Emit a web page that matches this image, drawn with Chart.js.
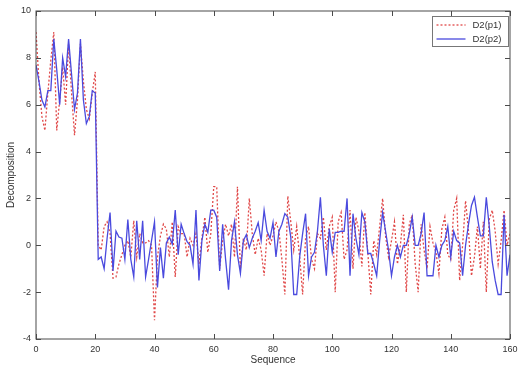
<html lang="en">

<head>
	<title>D2 decomposition</title>
	<meta http-equiv="content-type" content="text/html;charset=utf-8">
	<script src="https://cdn.jsdelivr.net/npm/chart.js@4/dist/chart.umd.min.js"></script>
	<style>
		body {
			margin: 0;
			background: #fff;
		}

		.div-chart {
			position: relative;
			width: 525px;
			height: 368px;
		}
	</style>
</head>

<body>
	<div class="div-chart">
		<canvas id="decomp" width="525" height="368"></canvas>
	</div>
	<script>
		// values, index = sequence number 0..160
		const p1 = [
			9.1, 7.0, 5.5, 4.9, 6.5, 7.9, 9.1, 4.9, 6.2, 7.6, 6.0, 8.6, 6.5, 4.7, 6.2, 8.6, 7.0, 5.8, 5.4, 6.5, 7.4,
			0.0, -0.2, 0.8, 1.0, 0.5, -1.4, -1.35, -0.8, -0.4, 0.0,
			0.2, -0.5, 1.05, -0.5, 0.5, 0.1, 0.1, 0.2, 0.0, -3.2,
			-0.5, 0.4, 0.9, 0.7, -0.5, 1.0, -1.35, 0.8, 0.5, 0.5,
			-0.5, 0.3, 0.0, 0.5, -0.8, 0.3, 1.2, -0.3, 0.5, 2.5,
			2.5, -1.0, 0.2, 0.9, 0.4, 0.9, -0.5, 2.5, -1.0, 0.3,
			-0.2, 2.0, 0.5, -0.4, 0.3, -0.2, -1.3, 0.5, 0.0, 0.4,
			1.0, 0.6, -0.6, -2.1, 2.1, 1.0, -0.2, 0.8, -0.5, -2.1,
			0.3, 0.8, -0.6, -1.0, 0.5, 0.3, 1.2, -0.2, 0.8, 1.2,
			-2.0, 1.0, 1.4, -0.6, -0.2, 1.5, -1.0, 1.2, 0.6, -0.9,
			1.4, -0.3, -2.1, 0.2, -0.4, 0.8, 2.0, 0.4, -0.5, 0.2,
			1.0, -0.8, 0.0, 1.3, -2.0, 0.9, 1.3, -0.8, -2.0, 0.9,
			-0.2, -1.0, 0.8, 0.1, -0.3, -1.2, 0.7, 1.2, -0.4, -0.6,
			1.5, 2.0, -1.5, 0.0, 1.9, 0.6, -1.3, -0.5, 0.8, -1.0,
			1.0, -2.0, 1.1, 1.5, 0.6, -0.8, 0.2, 1.5, 0.0, 0.5
		];
		const p2 = [
			7.7, 7.0, 6.2, 5.9, 6.6, 6.6, 8.8, 7.5, 6.0, 8.0, 7.2, 8.8, 7.3, 5.8, 6.5, 8.8, 6.2, 5.2, 5.5, 6.6, 6.5,
			-0.6, -0.5, -1.0, 0.3, 1.4, -1.1, 0.6, 0.35, 0.3, -0.6,
			1.1, -0.6, -1.35, 1.05, -0.6, 1.05, -1.35, -0.6, 0.2, 1.0,
			-1.8, -0.1, -1.4, 0.1, 0.35, 0.05, 1.5, -0.4, 0.9, 0.5,
			0.15, 0.0, -0.8, 1.5, -1.5, 0.2, 0.9, 0.55, 1.5, 1.5,
			1.2, -1.1, 0.9, -0.6, -1.9, 0.2, 1.0, -0.4, -1.2, 0.2,
			0.45, -0.1, 0.3, 0.6, 0.97, 0.2, 1.5, 0.6, 0.3, 0.97,
			-0.5, 0.6, 0.9, 1.35, 1.2, 0.35, -2.1, -2.1, -0.5, 0.5,
			1.35, -1.3, -0.5, -0.3, 0.6, 2.05, 0.0, -1.3, 0.7, -0.3,
			0.55, 0.55, 0.6, 0.6, 2.0, -1.3, 1.35, 0.3, -0.4, 1.4,
			1.0, -0.35, -0.35, -0.8, -1.3, 0.2, 1.4, 0.6, -0.2, -1.3,
			-0.5, 0.0, -0.5, 0.0, 0.0, 0.5, 1.2, 0.0, 0.0, 0.5,
			1.4, -1.3, -1.3, -1.3, 0.0, -0.5, 0.0, 0.2, 0.8, -0.5,
			0.6, 0.2, 0.1, -1.3, 0.0, 0.9, 1.7, 2.05, 1.2, 0.4,
			0.4, 2.05, 0.8, -0.7, -1.5, -2.1, -2.1, 1.3, -1.3, -0.4
		];
		const sequence = p1.map((v, i) => i);
		const xTicks = [0, 20, 40, 60, 80, 100, 120, 140, 160];
		const yTicks = [-4, -2, 0, 2, 4, 6, 8, 10];

		const FONT = 'Liberation Sans, Arial, sans-serif';
		const AXIS_COLOR = '#4a4a4a';

		// Caixa completa com ticks pra dentro (estilo matlab)
		const boxAxes = {
			id: 'boxAxes',
			afterDatasetsDraw(chart) {
				const { ctx, chartArea: a, scales: { x, y } } = chart;
				ctx.save();
				ctx.strokeStyle = AXIS_COLOR;
				ctx.lineWidth = 1;
				ctx.strokeRect(a.left, a.top, a.right - a.left, a.bottom - a.top);
				ctx.beginPath();
				x.ticks.forEach(t => {
					const px = Math.round(x.getPixelForValue(t.value)) + 0.5;
					ctx.moveTo(px, a.bottom); ctx.lineTo(px, a.bottom - 5);
					ctx.moveTo(px, a.top); ctx.lineTo(px, a.top + 5);
				});
				y.ticks.forEach(t => {
					const py = Math.round(y.getPixelForValue(t.value)) + 0.5;
					ctx.moveTo(a.left, py); ctx.lineTo(a.left + 5, py);
					ctx.moveTo(a.right, py); ctx.lineTo(a.right - 5, py);
				});
				ctx.stroke();
				ctx.restore();
			},
			afterDraw(chart) {
				// legenda dentro do grafico, canto superior direito
				const { ctx } = chart;
				const box = { left: 432.5, top: 16.5, width: 76, height: 30 };
				ctx.save();
				ctx.fillStyle = '#fff';
				ctx.strokeStyle = '#777';
				ctx.lineWidth = 1;
				ctx.fillRect(box.left, box.top, box.width, box.height);
				ctx.strokeRect(box.left, box.top, box.width, box.height);
				ctx.font = '9.5px ' + FONT;
				ctx.textBaseline = 'middle';
				chart.data.datasets.forEach((ds, i) => {
					const yy = box.top + 8.5 + i * 14;
					ctx.strokeStyle = ds.borderColor;
					ctx.lineWidth = ds.borderWidth;
					ctx.setLineDash(ds.borderDash || []);
					ctx.beginPath();
					ctx.moveTo(box.left + 4, yy);
					ctx.lineTo(box.left + 33, yy);
					ctx.stroke();
					ctx.setLineDash([]);
					ctx.fillStyle = '#333';
					ctx.fillText(ds.label, box.left + 40, yy);
				});
				ctx.restore();
			}
		};

		const chartConfig = {
			type: 'line',
			data: {
				labels: sequence,
				datasets: [
					{
						label: 'D2(p1)',
						data: p1,
						borderColor: '#e04848',
						borderWidth: 1.3,
						borderDash: [2, 2],
						pointRadius: 0,
						tension: 0,
						order: 2
					},
					{
						label: 'D2(p2)',
						data: p2,
						borderColor: '#4a4ade',
						borderWidth: 1.3,
						pointRadius: 0,
						tension: 0,
						order: 1
					}
				]
			},
			options: {
				responsive: false,
				animation: false,
				layout: { padding: { top: 11, right: 15, left: 0, bottom: 0 } },
				plugins: {
					legend: { display: false },
					tooltip: { enabled: false }
				},
				scales: {
					x: {
						type: 'linear',
						min: 0,
						max: 160,
						afterBuildTicks: s => { s.ticks = xTicks.map(v => ({ value: v })); },
						afterFit: s => { s.height = 29; },
						grid: { display: false, drawTicks: false },
						border: { display: false },
						ticks: { color: '#333', font: { family: FONT, size: 9 }, padding: 5, maxRotation: 0 },
						title: { display: true, text: 'Sequence', color: '#333', font: { family: FONT, size: 10 }, padding: { top: 0, bottom: 2 } }
					},
					y: {
						min: -4,
						max: 10,
						afterBuildTicks: s => { s.ticks = yTicks.map(v => ({ value: v })); },
						afterFit: s => { s.width = 36; },
						grid: { display: false, drawTicks: false },
						border: { display: false },
						ticks: { color: '#333', font: { family: FONT, size: 9 }, padding: 5 },
						title: { display: true, text: 'Decomposition', color: '#333', font: { family: FONT, size: 10 }, padding: { top: 5, bottom: 0 } }
					}
				}
			},
			plugins: [boxAxes]
		};

		new Chart(document.getElementById('decomp'), chartConfig);
	</script>
</body>

</html>
